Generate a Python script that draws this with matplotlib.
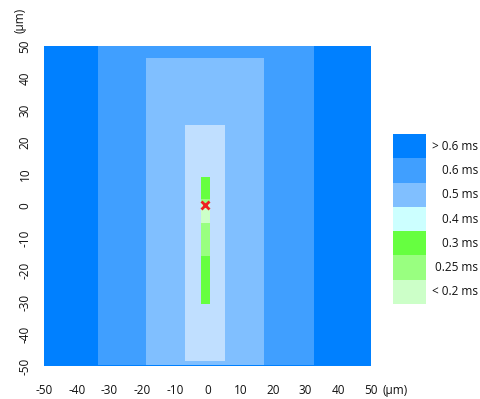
import matplotlib.pyplot as plt
from matplotlib.patches import Rectangle

plt.rcParams['font.family'] = ['Open Sans', 'DejaVu Sans']

# colour per level (index into legend)
level_labels = ['> 0.6 ms', '0.6 ms', '0.5 ms', '0.4 ms', '0.3 ms', '0.25 ms', '< 0.2 ms']
level_colors = ['#0080ff', '#409fff', '#80bfff', '#ccffff', '#66ff40', '#99ff80', '#ccffc8']

# rectangular zones, in um: x0, x1, y0, y1, level
zone_x0 = [-50, -33.5, -18.8, -6.9, -2.0, -2.0, -2.0, -2.0, -2.0]
zone_x1 = [50, 32.6, 17.3, 5.4, 0.8, 0.8, 0.8, 0.8, 0.8]
zone_y0 = [-50, -49.6, -49.6, -48.4, 2.2, 0.9, -5.3, -15.6, -30.6]
zone_y1 = [50, 50, 46.2, 25.3, 9.1, 2.2, 0.9, -5.3, -15.6]
zone_level = [0, 1, 2, 3, 4, 5, 6, 5, 4]
# the inner pale zone is drawn a bit bluer than its legend entry
zone_color_override = {3: '#c0dfff'}

marker_x, marker_y = -0.8, 0.2

ticks = [-50, -40, -30, -20, -10, 0, 10, 20, 30, 40, 50]

fig = plt.figure(figsize=(4.81, 3.99), dpi=100)
ax = fig.add_axes([0.0915, 0.0827, 0.680, 0.802])

for i in range(len(zone_x0)):
    c = zone_color_override.get(i, level_colors[zone_level[i]])
    ax.add_patch(Rectangle((zone_x0[i], zone_y0[i]), zone_x1[i] - zone_x0[i],
                           zone_y1[i] - zone_y0[i], facecolor=c, edgecolor='none'))

ax.plot(marker_x, marker_y, marker='x', color='#ee2222', markersize=6, mew=2)

ax.set_xlim(-50, 50)
ax.set_ylim(-50, 50)
ax.set_xticks(ticks)
ax.set_yticks(ticks)
ax.set_xticklabels([str(t) for t in ticks], fontsize=8.5, color='#111111')
ax.set_yticklabels([str(t) for t in ticks], fontsize=8.5, color='#111111',
                   rotation=90, va='center')
ax.tick_params(axis='x', length=0, pad=13)
ax.tick_params(axis='y', length=0, pad=9)
for s in ax.spines.values():
    s.set_visible(False)

# unit labels next to the last ticks
ax.annotate('(µm)', xy=(50, -50), xycoords='data', xytext=(11, -24),
            textcoords='offset pixels', fontsize=8.5, color='#111111',
            ha='left', va='center')
ax.annotate('(µm)', xy=(-50, 50), xycoords='data', xytext=(-24, 13),
            textcoords='offset pixels', fontsize=8.5, color='#111111',
            rotation=90, ha='center', va='bottom')

# colour key
kax = fig.add_axes([0.817, 0.238, 0.0686, 0.426])
n = len(level_colors)
for i, c in enumerate(level_colors):
    kax.add_patch(Rectangle((0, n - 1 - i), 1, 1, facecolor=c, edgecolor='none'))
    kax.text(2.58, n - 0.5 - i, level_labels[i], ha='right', va='center',
             fontsize=8.5, color='#111111', clip_on=False)
kax.set_xlim(0, 1)
kax.set_ylim(0, n)
kax.axis('off')

fig.savefig('out.png', dpi=100)
